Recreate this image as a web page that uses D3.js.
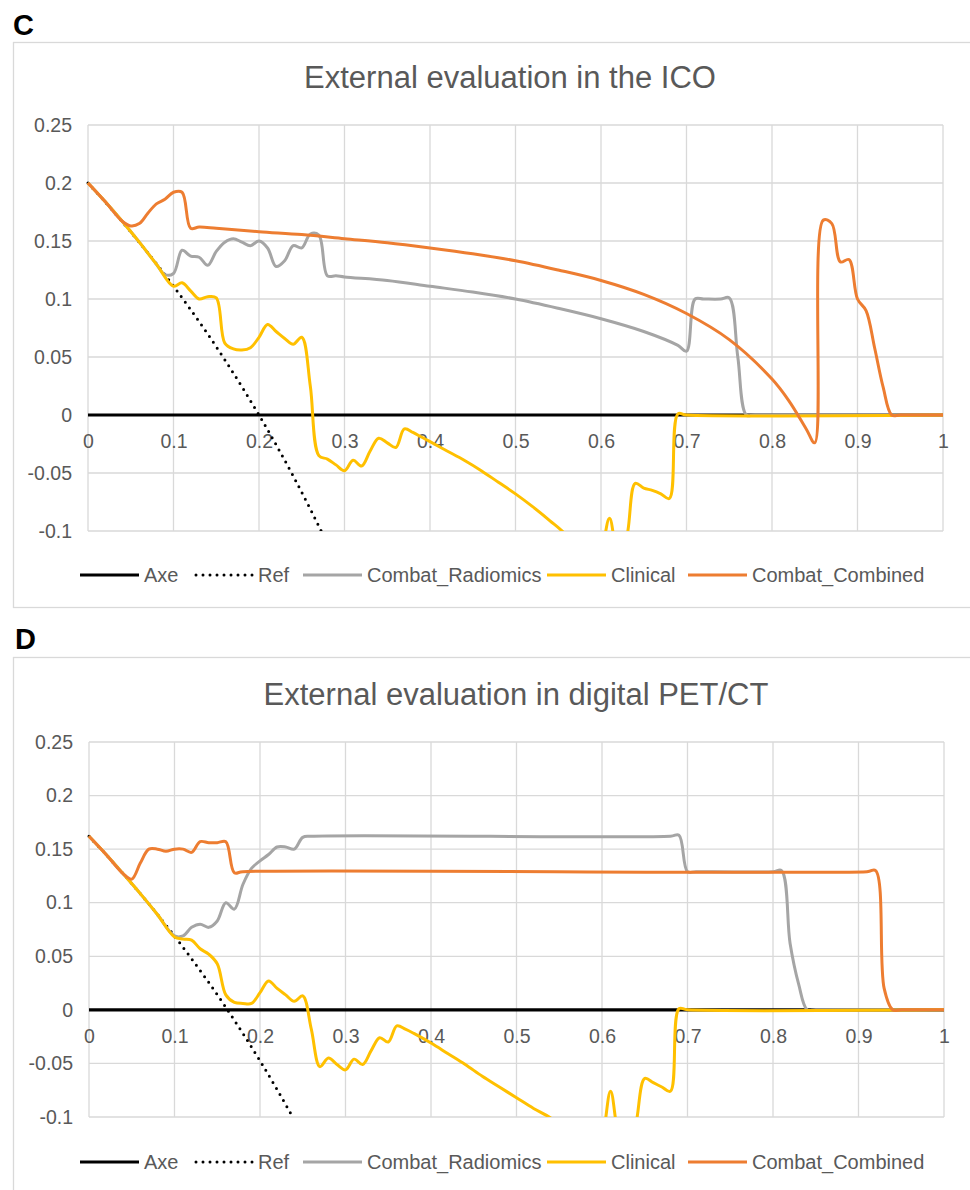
<!DOCTYPE html>
<html><head><meta charset="utf-8">
<script src="https://cdn.jsdelivr.net/npm/d3@7"></script>
<style>
body{margin:0;background:#fff}
svg{display:block}
text{font-family:"Liberation Sans",Arial,Helvetica,sans-serif}
</style>
</head><body>
<svg id="chart" width="970" height="1190"></svg>
<script>
// ---------- DATA ----------
const panelLetters = ["C", "D"];
const panelTitles = ["External evaluation in the ICO", "External evaluation in digital PET/CT"];
const seriesNames = ["Axe", "Ref", "Combat_Radiomics", "Clinical", "Combat_Combined"];
const xTickValues = [0, 0.1, 0.2, 0.3, 0.4, 0.5, 0.6, 0.7, 0.8, 0.9, 1];
const xTickLabels = ["0", "0.1", "0.2", "0.3", "0.4", "0.5", "0.6", "0.7", "0.8", "0.9", "1"];
const yTickValues = [-0.1, -0.05, 0, 0.05, 0.1, 0.15, 0.2, 0.25];
const yTickLabels = ["-0.1", "-0.05", "0", "0.05", "0.1", "0.15", "0.2", "0.25"];

const axeLine = [[0, 0], [1, 0]];

// Panel C : ICO
const refC = [[0,0.2],[0.02,0.1837],[0.04,0.1667],[0.06,0.1489],[0.08,0.1304],[0.10,0.1111],[0.12,0.0909],
  [0.14,0.0698],[0.16,0.0476],[0.18,0.0244],[0.20,0],[0.22,-0.0256],[0.24,-0.0526],[0.26,-0.0811],[0.28,-0.1111],[0.30,-0.1429]];
const radiomicsC = [[0,0.2],[0.02,0.184],[0.04,0.167],[0.06,0.149],[0.08,0.130],[0.09,0.121],[0.10,0.122],[0.11,0.142],
  [0.12,0.137],[0.13,0.136],[0.14,0.129],[0.15,0.141],[0.16,0.149],[0.17,0.152],[0.18,0.149],[0.19,0.146],[0.20,0.150],
  [0.21,0.144],[0.22,0.128],[0.23,0.133],[0.24,0.146],[0.25,0.144],[0.26,0.156],[0.27,0.155],[0.28,0.120],[0.29,0.120],
  [0.30,0.119],[0.35,0.116],[0.40,0.111],[0.45,0.106],[0.50,0.100],[0.55,0.092],[0.60,0.083],[0.65,0.072],[0.69,0.060],
  [0.70,0.055],[0.71,0.100],[0.72,0.100],[0.74,0.100],[0.75,0.101],[0.76,0.050],[0.77,0],[0.78,0],[1,0]];
const clinicalC = [[0,0.2],[0.02,0.184],[0.04,0.167],[0.06,0.149],[0.08,0.130],[0.10,0.111],[0.11,0.114],[0.12,0.107],
  [0.13,0.100],[0.14,0.102],[0.15,0.101],[0.16,0.062],[0.17,0.057],[0.18,0.056],[0.19,0.058],[0.20,0.067],[0.21,0.078],
  [0.22,0.072],[0.23,0.066],[0.24,0.061],[0.25,0.067],[0.26,0.025],[0.27,-0.035],[0.28,-0.038],[0.29,-0.043],[0.30,-0.048],
  [0.31,-0.039],[0.32,-0.044],[0.33,-0.031],[0.34,-0.020],[0.35,-0.024],[0.36,-0.028],[0.37,-0.012],[0.38,-0.015],
  [0.39,-0.019],[0.40,-0.023],[0.42,-0.031],[0.44,-0.039],[0.46,-0.048],[0.48,-0.058],[0.50,-0.068],[0.52,-0.079],
  [0.54,-0.091],[0.56,-0.104],[0.58,-0.125],[0.59,-0.135],[0.60,-0.120],[0.61,-0.089],[0.62,-0.120],[0.63,-0.105],
  [0.64,-0.059],[0.65,-0.063],[0.66,-0.065],[0.67,-0.068],[0.68,-0.072],[0.69,0.001],[0.70,0],[1,0]];
const combinedC = [[0,0.2],[0.02,0.184],[0.04,0.167],[0.05,0.163],[0.06,0.165],[0.07,0.174],[0.08,0.182],[0.09,0.186],
  [0.10,0.192],[0.11,0.192],[0.12,0.161],[0.13,0.162],[0.15,0.161],[0.20,0.158],[0.25,0.1555],[0.30,0.152],[0.35,0.1485],
  [0.40,0.144],[0.45,0.139],[0.50,0.133],[0.55,0.125],[0.60,0.116],[0.65,0.104],[0.70,0.0875],[0.75,0.065],[0.80,0.031],
  [0.82,0.012],[0.84,-0.012],[0.85,-0.024],[0.86,0.168],[0.87,0.165],[0.88,0.132],[0.89,0.134],[0.90,0.100],[0.91,0.090],
  [0.92,0.058],[0.93,0.024],[0.94,0],[0.95,0],[1,0]];

// Panel D : digital PET/CT
const refD = [[0,0.162],[0.02,0.1449],[0.04,0.1271],[0.06,0.1085],[0.08,0.0891],[0.10,0.0689],[0.12,0.0477],[0.14,0.0256],
  [0.16,0.0024],[0.18,-0.0220],[0.20,-0.0475],[0.22,-0.0744],[0.24,-0.1026],[0.26,-0.1324]];
const radiomicsD = [[0,0.162],[0.02,0.145],[0.04,0.127],[0.06,0.1085],[0.08,0.089],[0.10,0.069],[0.11,0.069],[0.12,0.077],
  [0.13,0.080],[0.14,0.077],[0.15,0.083],[0.16,0.100],[0.17,0.094],[0.18,0.117],[0.19,0.132],[0.20,0.139],[0.21,0.145],
  [0.22,0.152],[0.23,0.152],[0.24,0.150],[0.25,0.161],[0.26,0.162],[0.68,0.162],[0.69,0.163],[0.70,0.129],[0.71,0.129],
  [0.80,0.129],[0.81,0.130],[0.82,0.062],[0.83,0.024],[0.84,0],[0.85,0],[1,0]];
const clinicalD = [[0,0.162],[0.02,0.145],[0.04,0.127],[0.06,0.1085],[0.08,0.089],[0.10,0.068],[0.11,0.066],[0.12,0.065],
  [0.13,0.057],[0.14,0.052],[0.15,0.043],[0.16,0.014],[0.17,0.007],[0.18,0.006],[0.19,0.006],[0.20,0.016],[0.21,0.027],
  [0.22,0.020],[0.23,0.014],[0.24,0.008],[0.25,0.013],[0.26,-0.018],[0.27,-0.053],[0.28,-0.045],[0.29,-0.051],[0.30,-0.056],
  [0.31,-0.046],[0.32,-0.051],[0.33,-0.038],[0.34,-0.026],[0.35,-0.030],[0.36,-0.015],[0.37,-0.018],[0.38,-0.022],
  [0.40,-0.031],[0.42,-0.041],[0.44,-0.051],[0.46,-0.062],[0.48,-0.072],[0.50,-0.082],[0.52,-0.092],[0.54,-0.101],
  [0.56,-0.115],[0.58,-0.128],[0.59,-0.135],[0.60,-0.120],[0.61,-0.076],[0.62,-0.120],[0.63,-0.135],[0.64,-0.105],
  [0.65,-0.064],[0.66,-0.068],[0.67,-0.072],[0.68,-0.076],[0.69,0.001],[0.70,0],[1,0]];
const combinedD = [[0,0.162],[0.02,0.145],[0.04,0.127],[0.05,0.122],[0.06,0.137],[0.07,0.150],[0.08,0.150],[0.09,0.148],
  [0.10,0.150],[0.11,0.150],[0.12,0.147],[0.13,0.157],[0.14,0.156],[0.15,0.156],[0.16,0.157],[0.17,0.128],[0.18,0.129],
  [0.91,0.129],[0.92,0.130],[0.93,0.020],[0.94,0],[0.95,0],[1,0]];

// ---------- STYLE / LAYOUT ----------
const seriesStyles = [
  {color:"#000000", width:3.2, dash:null},
  {color:"#000000", width:3, dash:"0 7"},
  {color:"#A5A5A5", width:3, dash:null},
  {color:"#FFC000", width:3, dash:null},
  {color:"#ED7D31", width:3, dash:null}
];
const textColor = "#595959";
const gridColor = "#D9D9D9";
const legendXs = [80, 194, 303, 547, 688];

const panels = [
  {letter:panelLetters[0], title:panelTitles[0], series:[axeLine, refC, radiomicsC, clinicalC, combinedC],
   frameTop:42.5, frameBottom:607.5, letterX:13, letterY:35, titleX:510, titleY:88,
   plot:{l:88, r:943, t:125, b:531}, legendY:575},
  {letter:panelLetters[1], title:panelTitles[1], series:[axeLine, refD, radiomicsD, clinicalD, combinedD],
   frameTop:657.5, frameBottom:1300, letterX:15, letterY:649, titleX:516, titleY:705,
   plot:{l:89, r:944, t:742, b:1117}, legendY:1162}
];

const svg = d3.select("#chart");

panels.forEach((p, pi) => {
  const g = svg.append("g");
  g.append("rect").attr("x", 13.5).attr("y", p.frameTop).attr("width", 1000).attr("height", p.frameBottom - p.frameTop)
    .attr("fill", "none").attr("stroke", gridColor).attr("stroke-width", 1.3);
  g.append("text").attr("x", p.letterX).attr("y", p.letterY).attr("font-size", 29).attr("font-weight", "bold")
    .attr("fill", "#000").text(p.letter);
  g.append("text").attr("x", p.titleX).attr("y", p.titleY).attr("text-anchor", "middle").attr("font-size", 31)
    .attr("fill", textColor).text(p.title);

  const x = d3.scaleLinear().domain([0, 1]).range([p.plot.l, p.plot.r]);
  const y = d3.scaleLinear().domain([-0.1, 0.25]).range([p.plot.b, p.plot.t]);

  const grid = g.append("g").attr("stroke", gridColor).attr("stroke-width", 1.3);
  grid.selectAll("line.v").data(xTickValues).join("line").attr("class", "v")
    .attr("x1", d => x(d)).attr("x2", d => x(d)).attr("y1", y(0.25)).attr("y2", y(-0.1));
  grid.selectAll("line.h").data(yTickValues).join("line").attr("class", "h")
    .attr("x1", x(0)).attr("x2", x(1)).attr("y1", d => y(d)).attr("y2", d => y(d));

  const yAxis = d3.axisLeft(y).tickValues(yTickValues).tickFormat((d, i) => yTickLabels[i]).tickSize(0).tickPadding(16);
  const ya = g.append("g").attr("transform", `translate(${p.plot.l},0)`).call(yAxis);
  ya.select(".domain").remove();
  ya.selectAll("text").attr("font-size", 19.5).attr("fill", textColor)
    .attr("font-family", '"Liberation Sans",Arial,Helvetica,sans-serif');

  const xAxis = d3.axisBottom(x).tickValues(xTickValues).tickFormat((d, i) => xTickLabels[i]).tickSize(0).tickPadding(0);
  const xa = g.append("g").attr("transform", `translate(0,${y(0)})`).call(xAxis);
  xa.select(".domain").remove();
  xa.selectAll("text").attr("font-size", 19.5).attr("fill", textColor).attr("y", 26).attr("dy", "0.35em")
    .attr("font-family", '"Liberation Sans",Arial,Helvetica,sans-serif');

  const clipId = "clip" + pi;
  svg.append("clipPath").attr("id", clipId).append("rect")
    .attr("x", p.plot.l - 6).attr("y", p.plot.t - 10).attr("width", p.plot.r - p.plot.l + 12).attr("height", p.plot.b - p.plot.t + 10);

  const line = d3.line().x(d => x(d[0])).y(d => y(d[1])).curve(d3.curveCatmullRom.alpha(0.5));
  const sg = g.append("g").attr("clip-path", `url(#${clipId})`);
  p.series.forEach((s, si) => {
    const st = seriesStyles[si];
    const path = sg.append("path").datum(s).attr("d", line).attr("fill", "none")
      .attr("stroke", st.color).attr("stroke-width", st.width).attr("stroke-linejoin", "round");
    if (st.dash) path.attr("stroke-dasharray", st.dash).attr("stroke-linecap", "round");
    else path.attr("stroke-linecap", "butt");
  });

  const lg = g.append("g");
  seriesNames.forEach((name, si) => {
    const st = seriesStyles[si];
    const lx = legendXs[si];
    const l = lg.append("line").attr("x1", lx).attr("x2", lx + 59).attr("y1", p.legendY).attr("y2", p.legendY)
      .attr("stroke", st.color).attr("stroke-width", st.width);
    if (st.dash) l.attr("stroke-dasharray", st.dash).attr("stroke-linecap", "round").attr("x1", lx + 2);
    lg.append("text").attr("x", lx + 64).attr("y", p.legendY).attr("dy", "0.35em").attr("font-size", 20)
      .attr("fill", textColor).text(name);
  });
});
</script>
</body></html>
